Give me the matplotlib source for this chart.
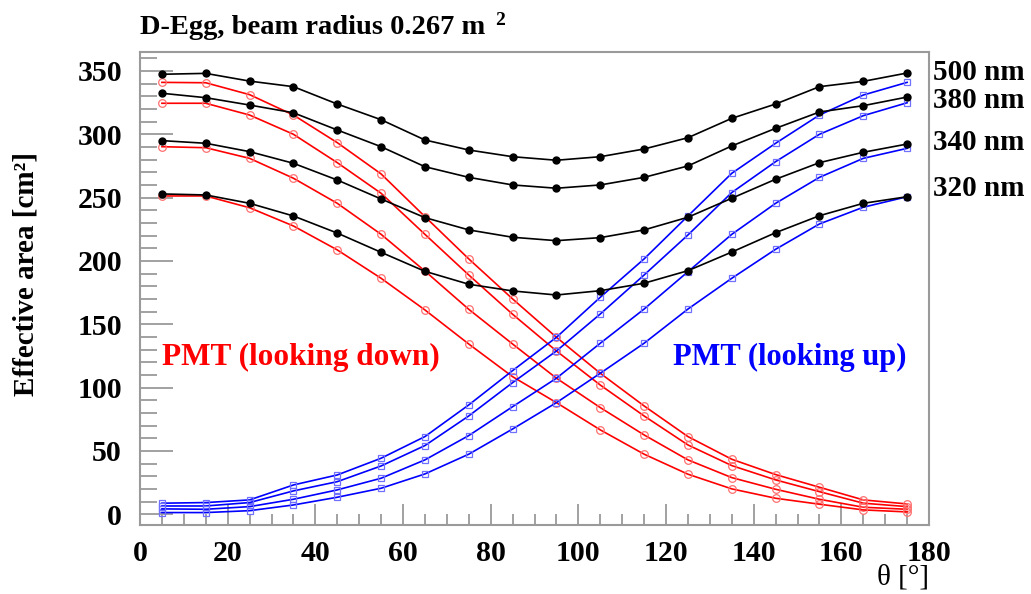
import matplotlib
matplotlib.use('Agg')
import matplotlib.pyplot as plt
from matplotlib.ticker import MultipleLocator

SERIF = 'Liberation Serif'
FRAME = '#9a9a9a'

# polar angle of the beam (deg)
theta = [5, 15, 25, 35, 45, 55, 65, 75, 85, 95, 105, 115, 125, 135, 145, 155, 165, 175]

wavelengths = ['500 nm', '380 nm', '340 nm', '320 nm']

# D-Egg total (both PMTs)
total_500 = [347.4, 348.1, 342.0, 337.6, 323.9, 311.5, 295.5, 287.6, 282.3, 279.5,
             282.3, 288.4, 297.3, 312.6, 323.9, 337.6, 341.8, 348.4]
total_380 = [332.4, 328.9, 323.1, 317.0, 303.4, 290.2, 274.4, 266.0, 260.0, 257.4,
             260.0, 266.0, 275.0, 290.8, 304.7, 317.6, 322.6, 329.4]
total_340 = [295.0, 292.9, 286.3, 277.1, 263.9, 248.9, 234.2, 224.5, 218.7, 216.0,
             218.4, 224.5, 234.5, 249.5, 264.5, 277.6, 285.8, 292.3]
total_320 = [252.9, 252.1, 245.5, 235.5, 222.0, 206.8, 191.8, 181.6, 176.3, 173.1,
             176.5, 182.4, 192.3, 207.0, 222.3, 235.7, 245.5, 250.7]

# lower PMT (looking down)
down_500 = [341.0, 340.7, 331.3, 315.2, 293.4, 268.7, 235.0, 201.6, 170.0, 139.7,
            111.3, 85.5, 61.3, 43.4, 31.3, 21.3, 11.3, 8.1]
down_380 = [324.5, 324.5, 315.2, 300.0, 277.6, 253.4, 221.0, 188.9, 157.9, 128.9,
            102.0, 77.6, 54.7, 38.4, 27.1, 17.8, 8.7, 6.0]
down_340 = [290.2, 289.4, 281.0, 265.3, 245.5, 221.0, 192.0, 161.8, 134.4, 107.4,
            84.2, 62.6, 42.9, 28.9, 19.7, 11.8, 5.5, 3.9]
down_320 = [251.3, 251.3, 242.0, 227.6, 208.7, 186.3, 161.3, 134.4, 108.6, 88.1,
            66.6, 47.4, 31.6, 20.0, 12.6, 7.9, 3.4, 1.8]

# upper PMT (looking up)
up_500 = [8.7, 9.2, 11.3, 23.1, 31.0, 44.2, 61.3, 86.3, 113.4, 139.7,
          171.3, 201.6, 235.5, 269.2, 292.9, 315.2, 331.0, 341.0]
up_380 = [6.5, 6.5, 9.2, 18.4, 25.7, 38.1, 54.2, 77.6, 103.9, 128.9,
          158.1, 188.9, 220.5, 254.0, 278.4, 300.0, 314.7, 324.9]
up_340 = [4.2, 3.9, 6.0, 11.8, 19.2, 28.4, 42.9, 62.1, 84.9, 107.4,
          135.0, 162.0, 191.5, 221.0, 245.5, 266.0, 281.0, 288.9]
up_320 = [1.3, 1.3, 2.8, 7.3, 13.4, 20.5, 31.8, 47.4, 67.3, 88.1,
          111.3, 135.0, 162.0, 186.3, 209.2, 229.2, 242.4, 250.7]

fig = plt.figure(figsize=(10.31, 5.94), dpi=100)
ax = fig.add_axes([0.1358, 0.1162, 0.9011 - 0.1358, 0.9125 - 0.1162])

for ys in (down_500, down_380, down_340, down_320):
    ax.plot(theta, ys, color='red', lw=1.2, marker='o', ms=5.5,
            mfc='none', mec='#ff7070', mew=0.9, zorder=2)
for ys in (up_500, up_380, up_340, up_320):
    ax.plot(theta, ys, color='blue', lw=1.2, marker='s', ms=5,
            mfc='none', mec='#7070ff', mew=0.9, zorder=2)
for ys in (total_500, total_380, total_340, total_320):
    ax.plot(theta, ys, color='black', lw=1.2, marker='o', ms=5,
            mfc='black', mec='black', zorder=3)

ax.set_xlim(0, 180)
ax.set_ylim(-8.5, 365)

ax.xaxis.set_major_locator(MultipleLocator(20))
ax.xaxis.set_minor_locator(MultipleLocator(5))
ax.yaxis.set_major_locator(MultipleLocator(50))
ax.yaxis.set_minor_locator(MultipleLocator(10))

for s in ax.spines.values():
    s.set_color(FRAME)
    s.set_linewidth(1.5)

ax.tick_params(axis='both', which='both', direction='in', color=FRAME,
               width=1.3, top=False, right=False)
ax.tick_params(axis='y', which='major', length=24, pad=13)
ax.tick_params(axis='y', which='minor', length=12)
ax.tick_params(axis='x', which='major', length=15, pad=11)
ax.tick_params(axis='x', which='minor', length=8)

for lab in ax.get_xticklabels() + ax.get_yticklabels():
    lab.set_fontfamily(SERIF)
    lab.set_fontweight('bold')
    lab.set_fontsize(21.5)

ax.set_ylabel('Effective area [cm²]', fontfamily=SERIF, fontweight='bold',
              fontsize=21)
ax.yaxis.set_label_coords(-0.127, 0.53)

ax.text(1.0, -0.112, 'θ [°]', transform=ax.transAxes, ha='right', va='center',
        fontfamily=SERIF, fontsize=21)

# title with a ROOT-style detached superscript
fig.text(0.1358, 0.953, 'D-Egg, beam radius 0.267 m', ha='left', va='center',
         fontfamily=SERIF, fontweight='bold', fontsize=20.5)
fig.text(0.4805, 0.966, '2', ha='left', va='center',
         fontfamily=SERIF, fontweight='bold', fontsize=14)

ax.text(0.028, 0.355, 'PMT (looking down)', transform=ax.transAxes, color='red',
        ha='left', va='center', fontfamily=SERIF, fontweight='bold', fontsize=22.5)
ax.text(0.972, 0.355, 'PMT (looking up)', transform=ax.transAxes, color='blue',
        ha='right', va='center', fontfamily=SERIF, fontweight='bold', fontsize=22)

# wavelength labels outside the right edge
label_y = [348.5, 327, 293.5, 257.5]
for txt, yv in zip(wavelengths, label_y):
    ax.text(1.005, yv, txt, transform=ax.get_yaxis_transform(), ha='left',
            va='center', fontfamily=SERIF, fontweight='bold', fontsize=21,
            clip_on=False)

fig.savefig('out.png', dpi=100, facecolor='white')
